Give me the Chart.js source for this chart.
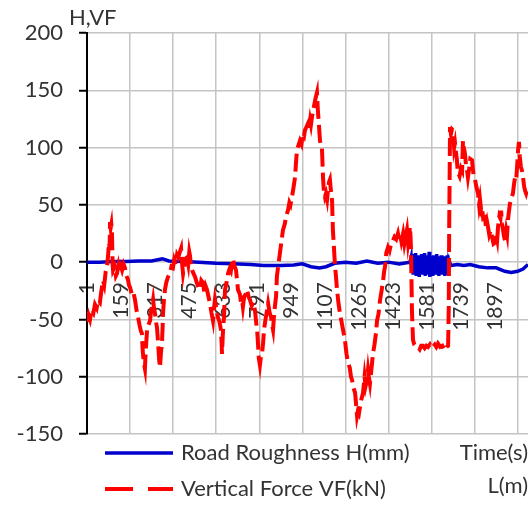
<!DOCTYPE html>
<html>
<head>
<meta charset="utf-8">
<script src="https://cdn.jsdelivr.net/npm/chart.js@4.4.1/dist/chart.umd.min.js"></script>
<style>
  html, body { margin: 0; padding: 0; background: #fff; }
</style>
</head>
<body>
<canvas id="roadChart" width="532" height="508" style="width:532px;height:508px"></canvas>
<script>
// --- Road roughness H (mm), sampled along the point number ---
const roughPos = [0, 60, 120, 180, 240, 300, 350, 380, 450, 520, 600, 680, 760, 820, 900, 960,
  1000, 1040, 1080, 1110, 1150, 1200, 1250, 1300, 1350, 1400, 1450, 1500,
  1505, 1508, 1512, 1515, 1519, 1522, 1526, 1529, 1533, 1536,
  1540, 1543, 1547, 1550, 1554, 1557, 1561, 1564, 1568, 1571,
  1575, 1578, 1582, 1585, 1589, 1592, 1596, 1599, 1603, 1606,
  1610, 1613, 1617, 1620, 1624, 1627, 1631, 1634, 1638, 1641,
  1645, 1648, 1652, 1655, 1659, 1662, 1666, 1669, 1673, 1676,
  1680,
  1690, 1720, 1750, 1780, 1820, 1860, 1900, 1940, 1970, 2000, 2025, 2048];
const roughH = [0, 0, 0.5, 0.5, 1, 1, 3, 1, 0.5, 0, -1, -1.5, -2, -3, -3, -2.5,
  -1.5, -4, -5, -4, -1, 0, -1, 1, -1, 0, -1.5, 0,
  4, -9, 7, -11, 5, -10, 8, -12, 4, -9,
  6, -13, 3, -10, 7, -11, 5, -9, 8, -12,
  4, -10, 6, -11, 9, -13, 5, -9, 4, -12,
  6, -10, 3, -11, 7, -9, 5, -12, 4, -10,
  6, -11, 3, -9, 5, -12, 4, -10, 6, -11,
  2,
  -3, -2, -3, -2, -4, -5, -5, -8, -9, -8, -6, -2];

// --- Vertical force VF (kN) ---
const forcePos = [
  0, 7, 14, 22, 30, 37, 45, 52, 60, 66,
  74, 80, 87, 93, 98, 102, 105, 107, 110, 113,
  116, 119, 121, 128, 134, 139, 146, 152, 158, 163,
  170, 176, 183, 190, 195, 200, 208, 215, 223, 230,
  237, 244, 250, 255, 258, 260, 264, 269, 272, 276,
  279, 285, 293, 298, 303, 307, 311, 316, 320, 325,
  330, 335, 339, 343, 348, 351, 353, 357, 362, 368,
  376, 385, 392, 399, 405, 412, 418, 423, 430, 437,
  441, 446, 451, 457, 464, 470, 475, 478, 483, 488,
  495, 502, 510, 518, 525, 531, 539, 545, 551, 557,
  564, 571, 578, 585, 590, 594, 600, 608, 615, 622,
  625, 627, 631, 636, 641, 648, 655, 662, 668, 673,
  678, 684, 692, 697, 701, 710, 715, 720, 724, 730,
  737, 743, 750, 757, 765, 772, 780, 787, 791, 794,
  798, 803, 808, 813, 818, 822, 829, 836, 841, 848,
  855, 860, 864, 868, 873, 878, 882, 889, 896, 903,
  910, 918, 925, 933, 940, 945, 952, 959, 966, 970,
  975, 982, 989, 996, 1002, 1008, 1012, 1019, 1026, 1031,
  1036, 1040, 1045, 1052, 1059, 1064, 1068, 1072, 1077, 1082,
  1087, 1091, 1094, 1096, 1100, 1105, 1110, 1115, 1119, 1124,
  1128, 1133, 1138, 1142, 1147, 1152, 1156, 1161, 1168, 1175,
  1182, 1190, 1198, 1205, 1212, 1220, 1226, 1231, 1238, 1245,
  1250, 1254, 1258, 1263, 1268, 1274, 1282, 1289, 1294, 1300,
  1305, 1309, 1314, 1320, 1328, 1335, 1342, 1347, 1354, 1361,
  1368, 1375, 1380, 1384, 1390, 1398, 1405, 1412, 1421, 1428,
  1436, 1444, 1449, 1454, 1460, 1468, 1474, 1480, 1486, 1491,
  1496, 1500, 1503, 1505, 1509, 1514, 1520, 1528, 1537, 1545,
  1552, 1560, 1568, 1576, 1584, 1592, 1600, 1607, 1615, 1622,
  1630, 1640, 1650, 1657, 1663, 1670, 1677, 1680, 1682, 1686,
  1690, 1695, 1700, 1705, 1709, 1714, 1718, 1721, 1723, 1730,
  1737, 1742, 1746, 1750, 1755, 1760, 1765, 1769, 1775, 1780,
  1788, 1795, 1802, 1808, 1816, 1821, 1825, 1830, 1834, 1840,
  1848, 1853, 1858, 1862, 1868, 1875, 1881, 1888, 1895, 1900,
  1905, 1909, 1915, 1920, 1923, 1927, 1932, 1937, 1941, 1947,
  1951, 1955, 1960, 1964, 1970, 1978, 1983, 1988, 1993, 1998,
  2002, 2006, 2010, 2015, 2020, 2025, 2030, 2035, 2039, 2044,
  2048];
const forceVF = [
  -52, -46, -50, -41, -44, -37, -40, -33, -35, -26,
  -16, -20, -8, -4, 6, 17, 12, 35, 30, 33,
  25, -2, -7, -4, -12, -10, -3, -9, -4, -7,
  -2, -5, -12, -15, -20, -22, -28, -26, -33, -42,
  -48, -55, -60, -62, -75, -80, -88, -93, -80, -68,
  -59, -55, -51, -42, -38, -33, -40, -45, -52, -57,
  -70, -85, -92, -80, -71, -58, -45, -34, -24, -18,
  -13, -10, -4, -5, 2, -2, 6, 4, 8, 12,
  0, -10, -4, 3, 4, -2, 9, 6, -3, -7,
  -10, -13, -18, -22, -24, -16, -18, -27, -21, -24,
  -30, -36, -44, -51, -40, -33, -40, -48, -52, -59,
  -70, -80, -62, -48, -24, -18, -10, -6, -8, -1,
  3, -3, -7, -16, -24, -28, -35, -33, -39, -30,
  -28, -24, -30, -33, -38, -35, -42, -55, -62, -71,
  -84, -90, -82, -80, -70, -59, -50, -42, -36, -44,
  -48, -55, -59, -48, -38, -30, -12, -2, 8, 18,
  28, 33, 40, 45, 52, 50, 57, 65, 74, 85,
  98, 102, 106, 103, 112, 110, 115, 118, 121, 117,
  124, 120, 127, 134, 141, 145, 148, 133, 120, 106,
  102, 100, 85, 74, 62, 57, 60, 55, 63, 70,
  72, 62, 54, 28, 12, -4, -12, -24, -36, -45,
  -52, -60, -68, -80, -88, -92, -100, -103, -110, -114,
  -125, -134, -130, -132, -126, -120, -114, -100, -108, -103,
  -94, -100, -106, -95, -80, -72, -62, -51, -45, -33,
  -25, -16, -8, -4, 8, 13, 10, 16, 19, 22,
  20, 25, 20, 24, 18, 25, 16, 22, 28, 17,
  24, 31, 20, 8, -42, -68, -72, -74, -74, -76,
  -73, -73, -75, -73, -74, -72, -75, -74, -72, -74,
  -71, -74, -73, -76, -77, -74, -73, -40, 30, 118,
  112, 116, 115, 100, 104, 95, 89, 80, 78, 75,
  82, 80, 106, 100, 95, 85, 80, 74, 82, 90,
  89, 76, 72, 66, 60, 50, 55, 46, 48, 38,
  39, 30, 35, 31, 24, 28, 22, 16, 17, 25,
  20, 31, 40, 38, 45, 34, 28, 22, 19, 28,
  24, 37, 45, 51, 55, 60, 68, 74, 72, 85,
  98, 105, 92, 83, 80, 74, 66, 62, 60, 64,
  62];

// --- Axis ticks ---
const xTickLabels = [1, 159, 317, 475, 633, 791, 949, 1107, 1265, 1423, 1581, 1739, 1897];
const xGridStep = 200;
const xMax = 2048;
const yMin = -150;
const yMax = 200;

const textColor = '#333333';
const gridColor = '#c4c4c4';
const fontFamily = 'Lato, "Open Sans", sans-serif';

// texts and legend drawn around the plot (axis names and the two-row legend)
const extraText = {
  id: 'extraText',
  afterDraw(chart) {
    const ctx = chart.ctx;
    ctx.save();
    ctx.font = '22px ' + fontFamily;
    ctx.fillStyle = textColor;
    ctx.textBaseline = 'middle';
    ctx.textAlign = 'left';
    ctx.fillText('H,VF', 69, 18);
    ctx.textAlign = 'right';
    ctx.fillText('Time(s)', 528, 453);
    ctx.fillText('L(m)', 528, 486);

    // legend rows
    ctx.textAlign = 'left';
    chart.data.datasets.forEach((ds, i) => {
      const y = 453 + i * 36;
      ctx.beginPath();
      ctx.strokeStyle = ds.borderColor;
      ctx.lineWidth = ds.borderWidth;
      ctx.setLineDash(ds.legendDash);
      ctx.moveTo(105, y);
      ctx.lineTo(173, y);
      ctx.stroke();
      ctx.setLineDash([]);
      ctx.fillStyle = textColor;
      ctx.fillText(ds.label, 181, y);
    });
    ctx.restore();
  }
};

const ctx = document.getElementById('roadChart').getContext('2d');

new Chart(ctx, {
  type: 'line',
  data: {
    datasets: [
      {
        label: 'Road Roughness H(mm)',
        data: roughPos.map((x, i) => ({ x: x, y: roughH[i] })),
        borderColor: '#0000cc',
        borderWidth: 3.5,
        legendDash: [],
        pointRadius: 0,
        tension: 0,
        order: 2
      },
      {
        label: 'Vertical Force VF(kN)',
        data: forcePos.map((x, i) => ({ x: x, y: forceVF[i] })),
        borderColor: '#ff0000',
        borderWidth: 4,
        borderDash: [18, 6],
        legendDash: [28, 15],
        pointRadius: 0,
        tension: 0,
        order: 1
      }
    ]
  },
  options: {
    responsive: false,
    animation: false,
    devicePixelRatio: 1,
    layout: { padding: { top: 33, right: 4, bottom: 74, left: 0 } },
    plugins: {
      legend: { display: false },
      tooltip: { enabled: false }
    },
    scales: {
      // vertical grid lines every 200 points
      x: {
        type: 'linear',
        position: 'bottom',
        min: 0,
        max: xMax,
        ticks: { display: false, stepSize: xGridStep, includeBounds: false },
        grid: { color: gridColor, lineWidth: 1.5, drawTicks: false },
        border: { display: false },
        afterFit: s => { s.height = 0; }
      },
      // point-number labels sitting under the zero line
      xLabels: {
        type: 'linear',
        axis: 'x',
        position: { y: 0 },
        min: 0,
        max: xMax,
        afterBuildTicks: s => { s.ticks = xTickLabels.map(v => ({ value: v })); },
        afterFit: s => { s.paddingLeft = 0; s.paddingRight = 0; },
        ticks: {
          autoSkip: false,
          minRotation: 90,
          maxRotation: 90,
          padding: 20,
          color: textColor,
          font: { family: fontFamily, size: 21 },
          callback: v => String(v)
        },
        grid: { display: false, drawTicks: false },
        border: { display: false }
      },
      y: {
        min: yMin,
        max: yMax,
        ticks: {
          stepSize: 25,
          padding: 16,
          color: textColor,
          font: { family: fontFamily, size: 22 },
          callback: v => (v % 50 === 0 ? String(v) : '')
        },
        grid: {
          color: gridColor,
          lineWidth: 1.5,
          tickLength: 8,
          tickColor: c => (c.tick && c.tick.value % 50 === 0 ? '#000000' : 'rgba(0,0,0,0)'),
          tickWidth: 2
        },
        border: { display: true, color: '#000000', width: 2 },
        afterFit: s => { s.width = 87; }
      }
    }
  },
  plugins: [extraText]
});
</script>
</body>
</html>
